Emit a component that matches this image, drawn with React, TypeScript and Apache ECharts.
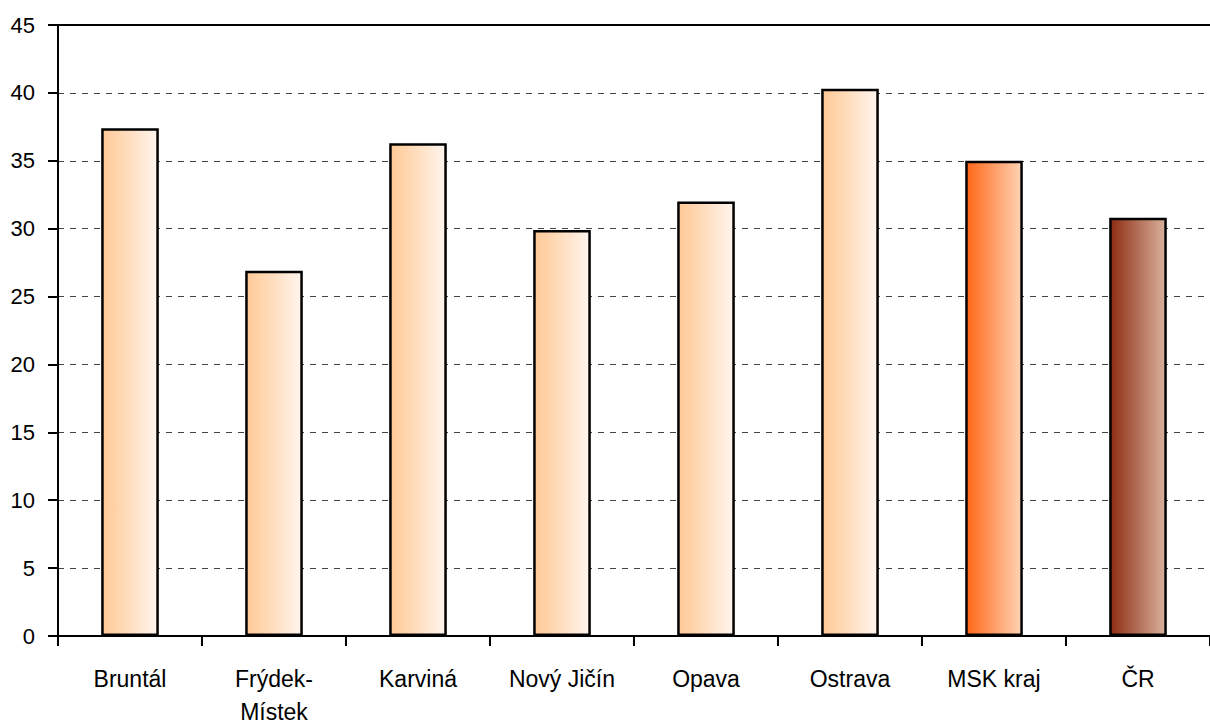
import React, { useEffect, useRef } from "react";
import * as echarts from "echarts";

const categories = ["Bruntál", "Frýdek-\nMístek", "Karviná", "Nový Jičín", "Opava", "Ostrava", "MSK kraj", "ČR"];
const values = [37.4, 26.9, 36.3, 29.9, 32.0, 40.3, 35.0, 30.8];
const barGradients: [string, string][] = [
  ["#FFC894", "#FFF5EE"],
  ["#FFC894", "#FFF5EE"],
  ["#FFC894", "#FFF5EE"],
  ["#FFC894", "#FFF5EE"],
  ["#FFC894", "#FFF5EE"],
  ["#FFC894", "#FFF5EE"],
  ["#FF6616", "#FFD4B6"],
  ["#8E2C12", "#D9B19C"],
];

export default function App() {
  const ref = useRef<HTMLDivElement>(null);
  useEffect(() => {
    if (!ref.current) return;
    const chart = echarts.init(ref.current, undefined, { renderer: "svg" });
    const font = "'Liberation Sans', Arial, sans-serif";
    chart.setOption({
      animation: false,
      backgroundColor: "#ffffff",
      grid: { left: 58, top: 25, right: -9, bottom: 87, containLabel: false },
      xAxis: [
        {
          type: "category",
          data: categories,
          boundaryGap: true,
          axisLine: { show: true, lineStyle: { color: "#000", width: 2 } },
          axisTick: { show: true, length: 10, lineStyle: { color: "#000", width: 2 } },
          axisLabel: {
            color: "#000",
            fontSize: 23,
            fontFamily: font,
            margin: 26,
            lineHeight: 33,
            interval: 0,
          },
          splitLine: { show: false },
        },
        {
          type: "category",
          data: categories,
          position: "top",
          axisLine: { show: true, lineStyle: { color: "#000", width: 2 } },
          axisTick: { show: false },
          axisLabel: { show: false },
          splitLine: { show: false },
        },
      ],
      yAxis: {
        type: "value",
        min: 0,
        max: 45,
        interval: 5,
        axisLine: { show: true, lineStyle: { color: "#000", width: 2 } },
        axisTick: { show: true, length: 10, lineStyle: { color: "#000", width: 2 } },
        axisLabel: { color: "#000", fontSize: 22, fontFamily: font, margin: 23 },
        splitLine: { show: true, lineStyle: { color: "#444", width: 1, type: [6, 6] } },
      },
      series: [
        {
          type: "bar",
          xAxisIndex: 0,
          barWidth: "40%",
          data: values.map((v, i) => ({
            value: v,
            itemStyle: {
              color: new echarts.graphic.LinearGradient(0, 0, 1, 0, [
                { offset: 0, color: barGradients[i][0] },
                { offset: 1, color: barGradients[i][1] },
              ]),
              borderColor: "#000",
              borderWidth: 2.5,
            },
          })),
        },
      ],
    });
    return () => chart.dispose();
  }, []);
  return (
    <div
      ref={ref}
      style={{ position: "fixed", left: 0, top: 0, width: 1210, height: 728, background: "#fff" }}
    />
  );
}
